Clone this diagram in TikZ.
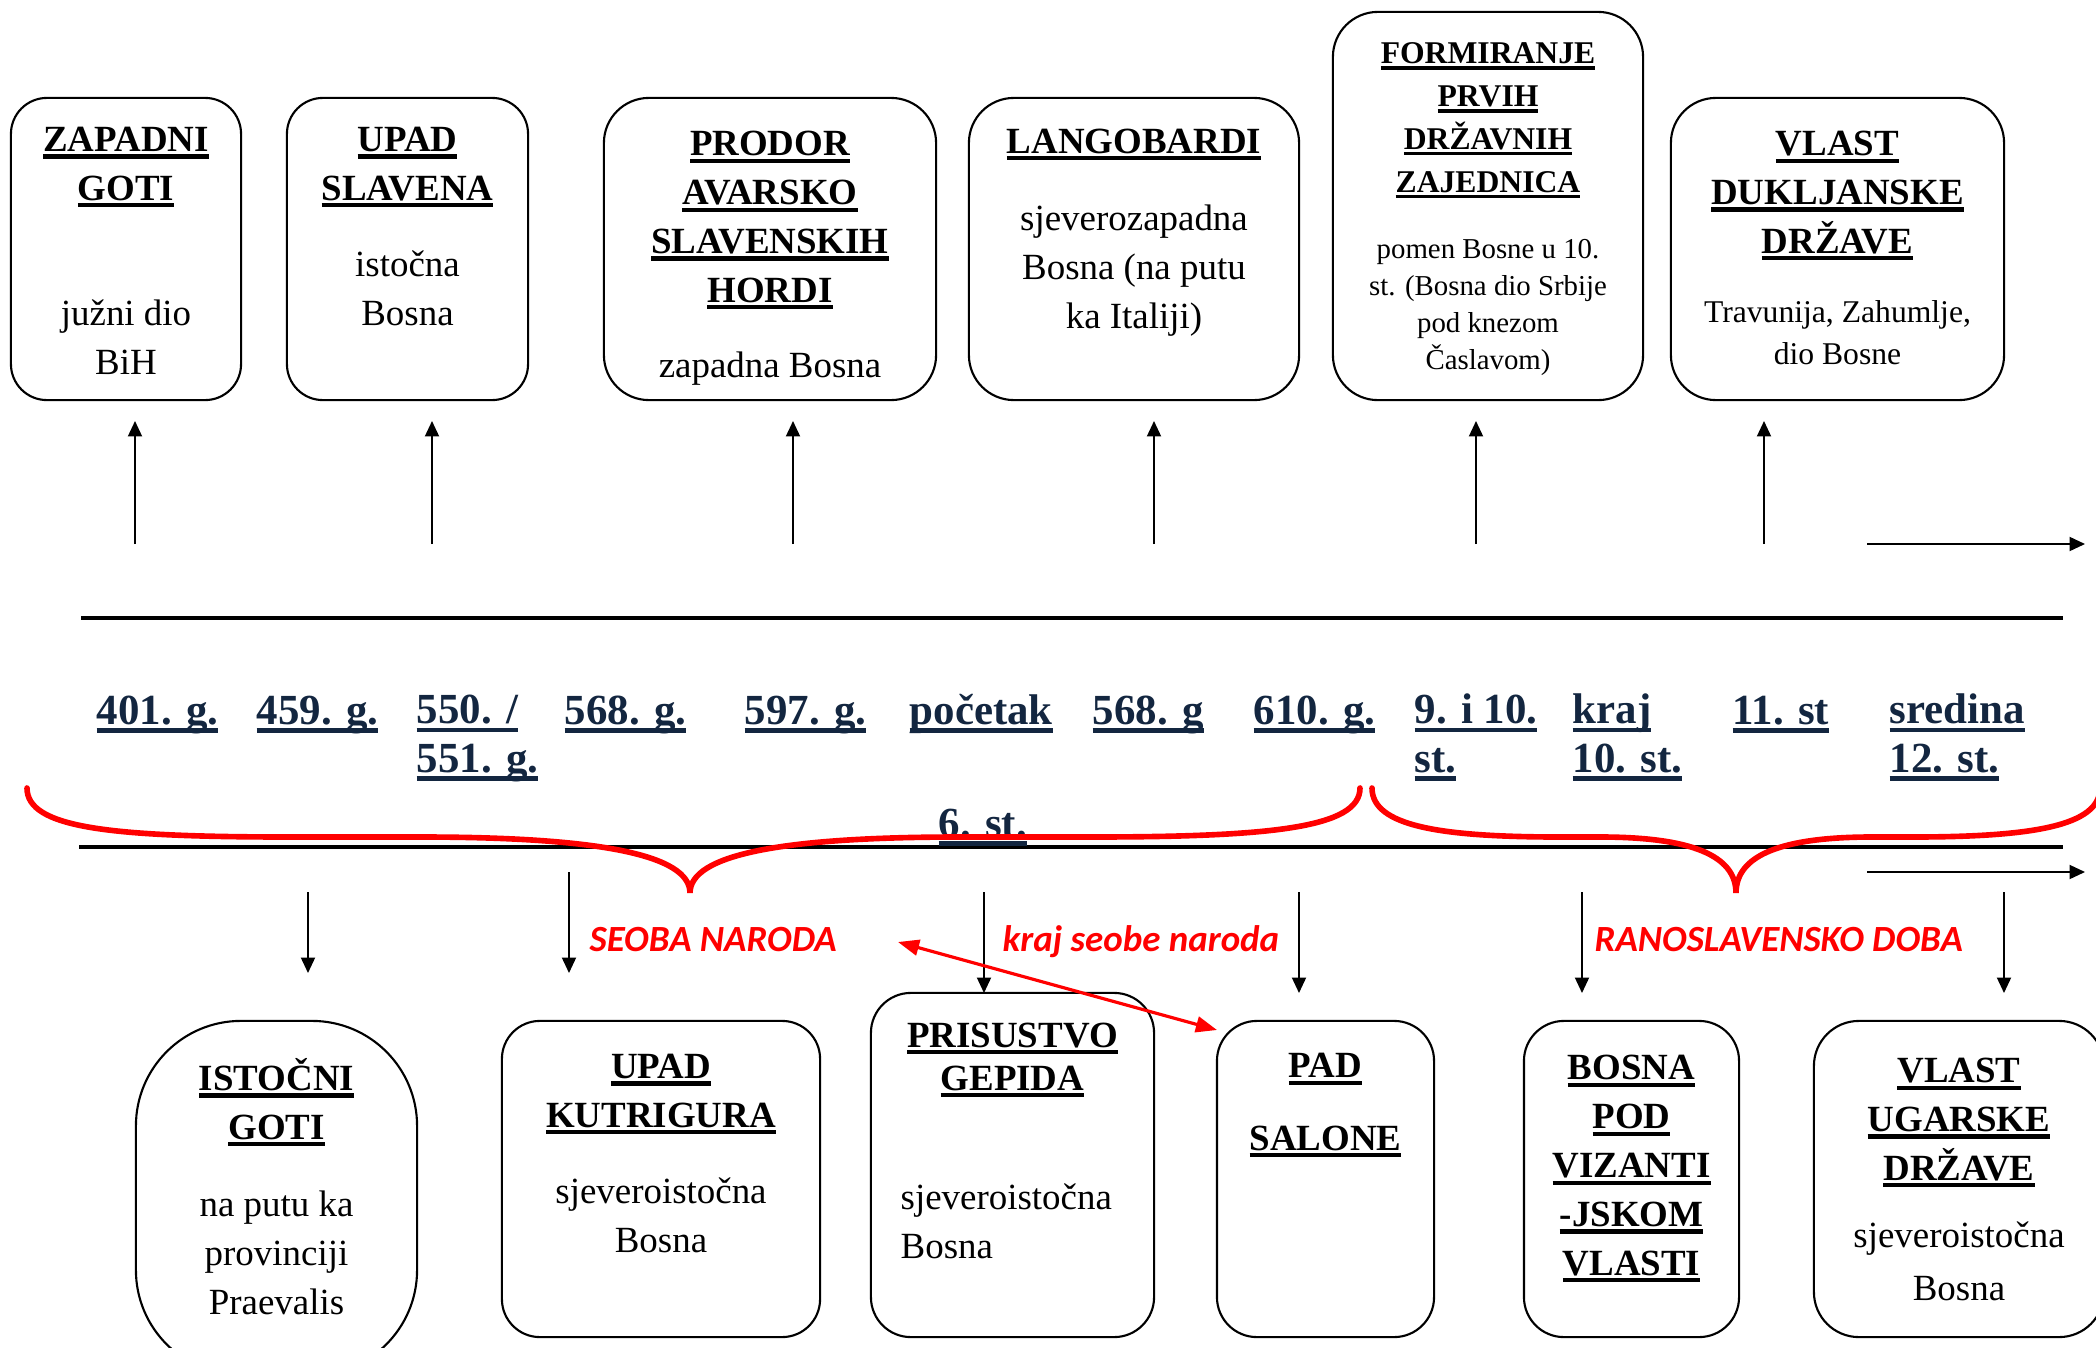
\documentclass[tikz,border=0pt]{standalone}
\usepackage{fontspec}
\setmainfont{Liberation Serif}
\newfontfamily\calibfont{Carlito}
\usetikzlibrary{arrows.meta}
\definecolor{datenavy}{RGB}{19,38,64}
\newcommand{\uln}[1]{\setbox0=\hbox{#1}\rlap{\rule[-0.2em]{\wd0}{0.11em}}\box0}
\tikzset{
  box/.style={draw, line width=0.6pt, rounded corners=#1, inner sep=0pt},
  box/.default=0.45cm,
  title/.style={font=\bfseries\fontsize{10.5}{13.9}\selectfont, align=center, anchor=base, inner sep=0pt},
  body/.style={font=\fontsize{10.5}{13.9}\selectfont, align=center, anchor=base, inner sep=0pt},
  date/.style={font=\bfseries\fontsize{12.2}{13.7}\selectfont, text=datenavy, align=left, anchor=base west, inner sep=0pt},
  era/.style={font=\calibfont\bfseries\itshape\fontsize{10.5}{12}\selectfont, text=red, anchor=base west, inner sep=0pt},
  tiparrow/.style={-{Triangle[length=4.4pt,width=4pt]}, line width=0.5pt},
  axisline/.style={line width=0.9pt},
  erabrace/.style={red, line width=1.6pt, line cap=round},
  redarrow/.style={{Triangle[length=6pt,width=4.5pt]}-{Triangle[length=6pt,width=4.5pt]}, red, line width=0.9pt}
}
\begin{document}
\begin{tikzpicture}[x=0.01cm, y=-0.01cm]
\useasboundingbox (0,0) rectangle (2096,1348);

\node[box=0.36cm, minimum width=2.30cm, minimum height=3.02cm] (zapadni) at (126,249) {};
\node[title] (zapadni-t) at (126,200) {\uln{ZAPADNI}\\\uln{GOTI}};
\node[body] (zapadni-b) at (126,374) {južni dio\\BiH};

\node[box=0.36cm, minimum width=2.41cm, minimum height=3.02cm] (slaveni) at (407.5,249) {};
\node[title] (slaveni-t) at (407.5,200) {\uln{UPAD}\\\uln{SLAVENA}};
\node[body] (slaveni-b) at (407.5,325) {istočna\\Bosna};

\node[box, minimum width=3.32cm, minimum height=3.02cm] (avari) at (770,249) {};
\node[title] (avari-t) at (770,302) {\uln{PRODOR}\\\uln{AVARSKO}\\\uln{SLAVENSKIH}\\\uln{HORDI}};
\node[body] (avari-b) at (770,377) {zapadna Bosna};

\node[box, minimum width=3.30cm, minimum height=3.02cm] (langobardi) at (1134,249) {};
\node[title] (langobardi-t) at (1134,153) {\uln{LANGOBARDI}};
\node[body] (langobardi-b) at (1134,328) {sjeverozapadna\\Bosna (na putu\\ka Italiji)};

\node[box, minimum width=3.10cm, minimum height=3.88cm] (drzave) at (1488,206) {};
\node[title, font=\bfseries\fontsize{9}{12.2}\selectfont] (drzave-t) at (1488,192) {\uln{FORMIRANJE}\\\uln{PRVIH}\\\uln{DRŽAVNIH}\\\uln{ZAJEDNICA}};
\node[body, font=\fontsize{8.2}{10.5}\selectfont] (drzave-b) at (1488,369) {pomen Bosne u 10.\\st. (Bosna dio Srbije\\pod knezom\\Časlavom)};

\node[box, minimum width=3.33cm, minimum height=3.02cm] (duklja) at (1837.5,249) {};
\node[title] (duklja-t) at (1837.5,253) {\uln{VLAST}\\\uln{DUKLJANSKE}\\\uln{DRŽAVE}};
\node[body, font=\fontsize{9}{11.7}\selectfont] (duklja-b) at (1837.5,364) {Travunija, Zahumlje,\\dio Bosne};

\node[box=1.05cm, minimum width=2.81cm, minimum height=3.54cm] (istocni) at (276.5,1198) {};
\node[title] (istocni-t) at (276.5,1139) {\uln{ISTOČNI}\\\uln{GOTI}};
\node[body] (istocni-b) at (276.5,1314) {na putu ka\\provinciji\\Praevalis};

\node[box=0.38cm, minimum width=3.18cm, minimum height=3.16cm] (kutrigur) at (661,1179) {};
\node[title] (kutrigur-t) at (661,1127) {\uln{UPAD}\\\uln{KUTRIGURA}};
\node[body] (kutrigur-b) at (661,1252) {sjeveroistočna\\Bosna};

\node[box=0.4cm, minimum width=2.83cm, minimum height=3.44cm] (gepidi) at (1012.5,1165) {};
\node[title, font=\bfseries\fontsize{10.5}{12.2}\selectfont] (gepidi-t) at (1012.5,1090) {\uln{PRISUSTVO}\\\uln{GEPIDA}};
\node[body, align=left, anchor=base west] (gepidi-b) at (900,1258) {sjeveroistočna\\Bosna};

\node[box=0.4cm, minimum width=2.17cm, minimum height=3.16cm] (salona) at (1325.5,1179) {};
\node[title] (salona-t) at (1325.5,1150) {\uln{PAD}\\[6.6pt]\uln{SALONE}};

\node[box=0.4cm, minimum width=2.15cm, minimum height=3.16cm] (bizant) at (1631.5,1179) {};
\node[title] (bizant-t) at (1631.5,1275) {\uln{BOSNA}\\\uln{POD}\\\uln{VIZANTI}\\\uln{-JSKOM}\\\uln{VLASTI}};

\node[box, minimum width=2.90cm, minimum height=3.16cm] (ugarska) at (1959,1179) {};
\node[title] (ugarska-t) at (1959,1180) {\uln{VLAST}\\\uln{UGARSKE}\\\uln{DRŽAVE}};
\node[body, font=\fontsize{10.5}{14.8}\selectfont] (ugarska-b) at (1959,1300) {sjeveroistočna\\Bosna};

\foreach \x [count=\i] in {135,432,793,1154,1476,1764} {
  \coordinate (up\i-s) at (\x,544);
  \coordinate (up\i-e) at (\x,421);
  \draw[tiparrow] (up\i-s) -- (up\i-e);
}
\foreach \x/\y [count=\i] in {308/892,569/872,984/892,1299/892,1582/892,2004/892} {
  \coordinate (dn\i-s) at (\x,\y);
  \coordinate (dn\i-e) at (\x,\ifnum\i<3 973\else 993\fi);
  \draw[tiparrow] (dn\i-s) -- (dn\i-e);
}
\coordinate (top-s) at (1867,544); \coordinate (top-e) at (2085,544);
\coordinate (bot-s) at (1867,872); \coordinate (bot-e) at (2085,872);
\draw[tiparrow] (top-s) -- (top-e);
\draw[tiparrow] (bot-s) -- (bot-e);

\coordinate (axis1-l) at (81,618); \coordinate (axis1-r) at (2063,618);
\coordinate (axis2-l) at (79,847); \coordinate (axis2-r) at (2063,847);
\draw[axisline] (axis1-l) -- (axis1-r);
\draw[axisline] (axis2-l) -- (axis2-r);

\node[date] (d401) at (96,724) {\uln{401. g.}};
\node[date] (d459) at (256,724) {\uln{459. g.}};
\node[date] (d550) at (416,772) {\uln{550. /}\\\uln{551. g.}};
\node[date] (d568) at (564,724) {\uln{568. g.}};
\node[date] (d597) at (744,724) {\uln{597. g.}};
\node[date] (dpoc) at (909,724) {\uln{početak}};
\node[date] (d6st) at (938,837) {\uln{6. st.}};
\node[date] (d568b) at (1092,724) {\uln{568. g}};
\node[date] (d610) at (1253,724) {\uln{610. g.}};
\node[date] (d910) at (1414,772) {\uln{9. i 10.}\\\uln{st.}};
\node[date] (dkraj) at (1572,772) {\uln{kraj}\\\uln{10. st.}};
\node[date] (d11) at (1732,724) {\uln{11. st}};
\node[date] (d12) at (1889,772) {\uln{sredina}\\\uln{12. st.}};

\node[era] (seoba) at (589,951) {SEOBA NARODA};
\node[era] (krajseobe) at (1002,951) {kraj seobe naroda};
\node[era] (ranoslav) at (1594,951) {RANOSLAVENSKO DOBA};

\draw[erabrace] (27,788) .. controls (27,828) and (110,837) .. (290,837) -- (420,837)
  .. controls (600,837) and (690,855) .. (690,893) .. controls (690,855) and (780,837) .. (960,837)
  -- (1090,837) .. controls (1270,837) and (1360,828) .. (1360,788);
\draw[erabrace] (1372,788) .. controls (1372,826) and (1440,837) .. (1560,837) -- (1600,837)
  .. controls (1690,837) and (1736,855) .. (1736,893) .. controls (1736,855) and (1782,837) .. (1872,837)
  -- (1912,837) .. controls (2032,837) and (2100,826) .. (2100,788);

\coordinate (seoba-end) at (898,942);
\coordinate (salona-end) at (1217,1030);
\draw[redarrow] (seoba-end) -- (salona-end);
\end{tikzpicture}
\end{document}
